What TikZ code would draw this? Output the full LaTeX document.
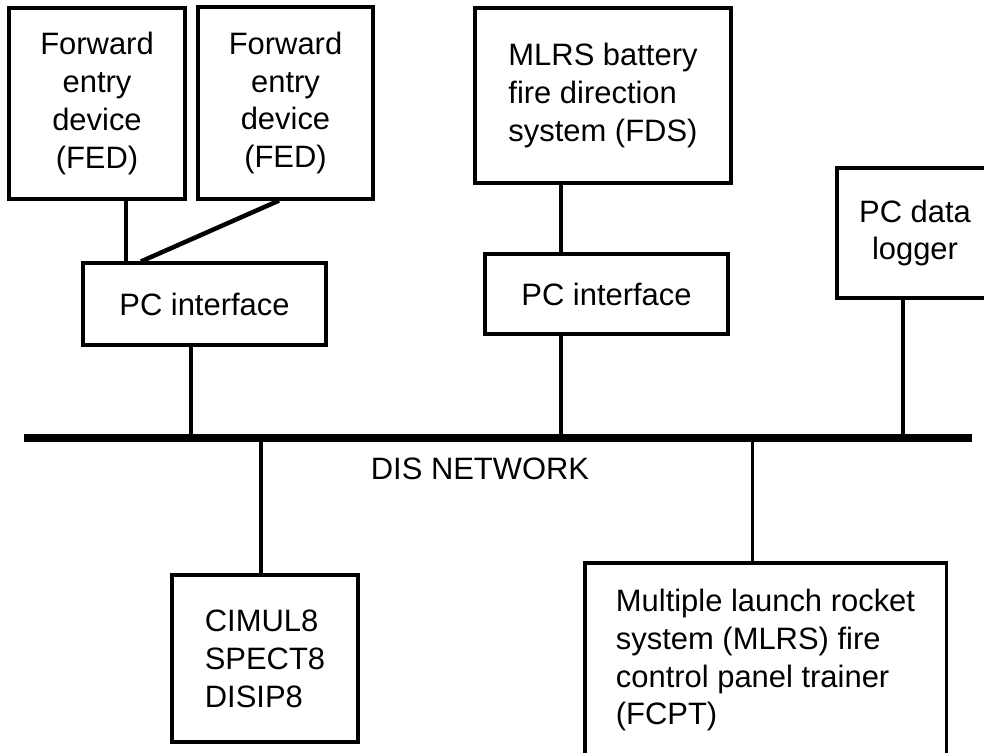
\documentclass[tikz,border=0pt]{standalone}
\usepackage{fontspec}
\setmainfont{Liberation Sans}
\usepackage{tikz}

\begin{document}
\begin{tikzpicture}[x=0.025cm, y=-0.025cm,
		every node/.style={font={\fontsize{22pt}{27pt}\selectfont}},
		box/.style={draw, line width=2.2pt, inner sep=0pt},
		link/.style={line width=2.2pt},
		bus/.style={line width=5.5pt}]
		\clip (0,0) rectangle (984,752);

		\node[box, align=center, minimum width=4.4cm, minimum height=4.775cm] (fed1) at (97,103.5) {Forward\\entry\\device\\(FED)};
		\node[box, align=center, minimum width=4.375cm, minimum height=4.8cm] (fed2) at (285.5,103) {Forward\\entry\\device\\(FED)};
		\node[box, align=left, minimum width=6.4cm, minimum height=4.375cm] (fds) at (603,95.5) {MLRS battery\\fire direction\\system (FDS)};
		\node[box, align=center, minimum width=3.9cm, minimum height=3.25cm] (logger) at (915,233) {PC data\\logger};
		\node[box, minimum width=6.075cm, minimum height=2.05cm] (pc1) at (204.5,304) {PC interface};
		\node[box, minimum width=6.075cm, minimum height=2cm] (pc2) at (606.5,294) {PC interface};
		\node[box, align=left, minimum width=4.65cm, minimum height=4.175cm] (sim) at (265,658.5) {CIMUL8\\SPECT8\\DISIP8};
		\node[box, align=left, minimum width=9.025cm, minimum height=4.85cm] (fcpt) at (765.5,660) {Multiple launch rocket\\system (MLRS) fire\\control panel trainer\\(FCPT)};

		\coordinate (busL) at (24,438);
		\coordinate (busR) at (972,438);
		\draw[bus] (busL) -- (busR);
		\node (dis) at (480,469) {DIS NETWORK};

		\draw[link] ([xshift=0.725cm]fed1.south) -- ([xshift=0.725cm]fed1.south |- pc1.north);
		\draw[line width=3.2pt] ([xshift=-0.1625cm]fed2.south) -- ([xshift=-1.5875cm]pc1.north);
		\draw[link] ([xshift=-0.3375cm]pc1.south) -- ([xshift=-0.3375cm]pc1.south |- busL);

		\draw[link] ([xshift=-1.05cm]fds.south) -- ([xshift=-1.05cm]fds.south |- pc2.north);
		\draw[link] ([xshift=-1.1375cm]pc2.south) -- ([xshift=-1.1375cm]pc2.south |- busL);
		\draw[link] ([xshift=-0.3cm]logger.south) -- ([xshift=-0.3cm]logger.south |- busL);

		\draw[link] ([xshift=-0.1cm]sim.north |- busL) -- ([xshift=-0.1cm]sim.north);
		\draw[link] ([xshift=-0.325cm]fcpt.north |- busL) -- ([xshift=-0.325cm]fcpt.north);
	\end{tikzpicture}
\end{document}
